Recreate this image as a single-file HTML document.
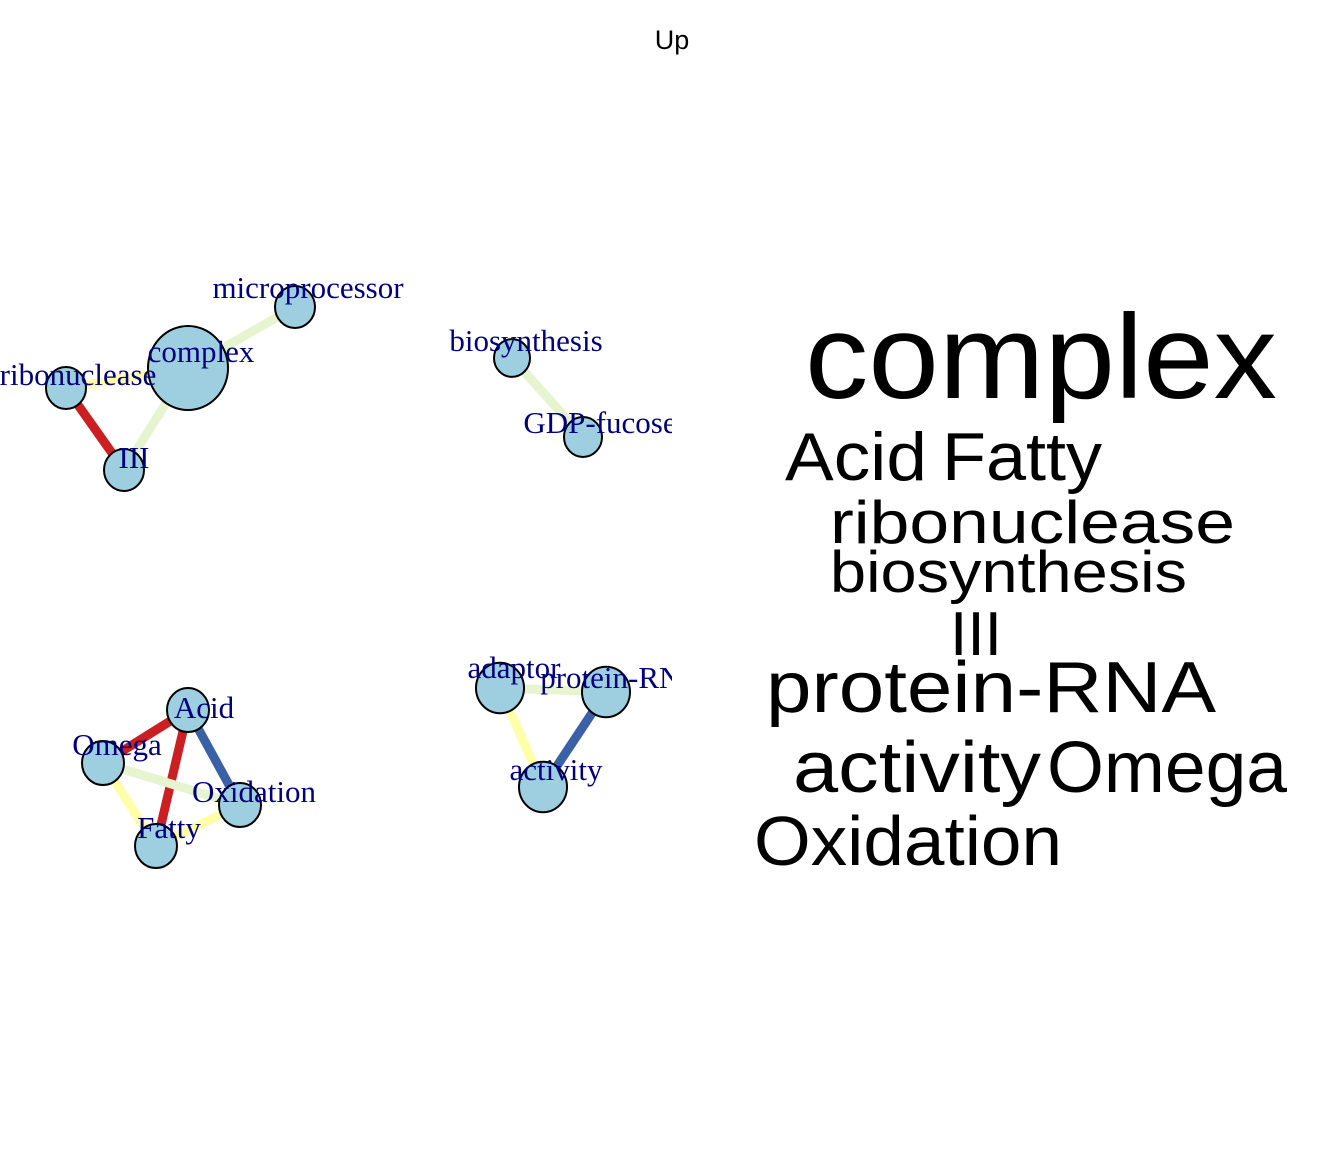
<!DOCTYPE html>
<html><head><meta charset="utf-8"><style>
html,body{margin:0;padding:0;background:#fff;}
svg{display:block;}
</style></head><body>
<svg id="chart" width="1344" height="1152" viewBox="0 0 1344 1152" xmlns="http://www.w3.org/2000/svg">
<defs><clipPath id="netclip"><rect x="0" y="0" width="672" height="1152"/></clipPath></defs>
<text x="672" y="49" text-anchor="middle" font-family="Liberation Sans, sans-serif" font-size="27">Up</text>
<g id="net" clip-path="url(#netclip)"></g>
<g id="cloud"></g>
</svg>
<script>
const nodeNames = ["complex","microprocessor","ribonuclease","III","biosynthesis","GDP-fucose","Acid","Omega","Oxidation","Fatty","adaptor","protein-RNA","activity"];
const nodeX = [188,295,66,124,512,583,188,103,240,156,500,606,543];
const nodeY = [368,307,388,470,358,437,710,763,805,846,688,692,787];
const nodeSize = [40,20,20,20,18,19,21,21,21,21,24,24,24];
const labelDX = [13,13,12,10,14,17,16,14,14,13,14,16,13];
const labelDY = [-6,-9,-3,-2,-7,-4,8,-8,-3,-8,-10,-4,-7];
const edgeFrom = [0,0,0,2,4,6,6,6,7,7,9,10,10,11];
const edgeTo   = [1,2,3,3,5,7,9,8,8,9,8,11,12,12];
const edgeColor = ["#e6f5d0","#ffffa8","#e6f5d0","#cc1f22","#e6f5d0","#cc1f22","#cc1f22","#3a61a6","#e6f5d0","#ffffa8","#ffffa8","#e6f5d0","#ffffa8","#3a61a6"];
const cloudWords = ["complex","Acid","Fatty","ribonuclease","biosynthesis","III","protein-RNA","activity","Omega","Oxidation"];
const cloudX = [805,785,942,830,830,950,766,793,1047,754];
const cloudY = [398,480,480,543,592,655,712,792,792,865];
const cloudSize = [120,68,68,60,58,62,72,72,72,70];
const cloudW = [472,142,160,405,357,52,450,248,240,308];

const NS="http://www.w3.org/2000/svg";
const net=document.getElementById('net');
for(let i=0;i<edgeFrom.length;i++){
  const l=document.createElementNS(NS,'line');
  l.setAttribute('x1',nodeX[edgeFrom[i]]);l.setAttribute('y1',nodeY[edgeFrom[i]]);
  l.setAttribute('x2',nodeX[edgeTo[i]]);l.setAttribute('y2',nodeY[edgeTo[i]]);
  l.setAttribute('stroke',edgeColor[i]);l.setAttribute('stroke-width','9');
  
  
  net.appendChild(l);
}
for(let i=0;i<nodeNames.length;i++){
  const c=document.createElementNS(NS,'ellipse');
  c.setAttribute('cx',nodeX[i]);c.setAttribute('cy',nodeY[i]);
  c.setAttribute('rx',nodeSize[i]);c.setAttribute('ry',nodeSize[i]*1.05);
  c.setAttribute('fill','#9ecfe0');c.setAttribute('stroke','#000');c.setAttribute('stroke-width','2');
  
  
  net.appendChild(c);
}
for(let i=0;i<nodeNames.length;i++){
  const t=document.createElementNS(NS,'text');
  t.setAttribute('x',nodeX[i]+labelDX[i]);t.setAttribute('y',nodeY[i]+labelDY[i]);
  t.setAttribute('text-anchor','middle');t.setAttribute('fill','#000080');
  t.setAttribute('font-family','Liberation Serif, serif');t.setAttribute('font-size','31');
  t.textContent=nodeNames[i];
  
  
  net.appendChild(t);
}
const cloud=document.getElementById('cloud');
for(let i=0;i<cloudWords.length;i++){
  const t=document.createElementNS(NS,'text');
  t.setAttribute('x',cloudX[i]);t.setAttribute('y',cloudY[i]);
  t.setAttribute('font-family','Liberation Sans, sans-serif');t.setAttribute('font-size',cloudSize[i]);
  t.setAttribute('textLength',cloudW[i]);t.setAttribute('lengthAdjust','spacingAndGlyphs');
  t.textContent=cloudWords[i];
  
  
  cloud.appendChild(t);
}
</script>
</body></html>
